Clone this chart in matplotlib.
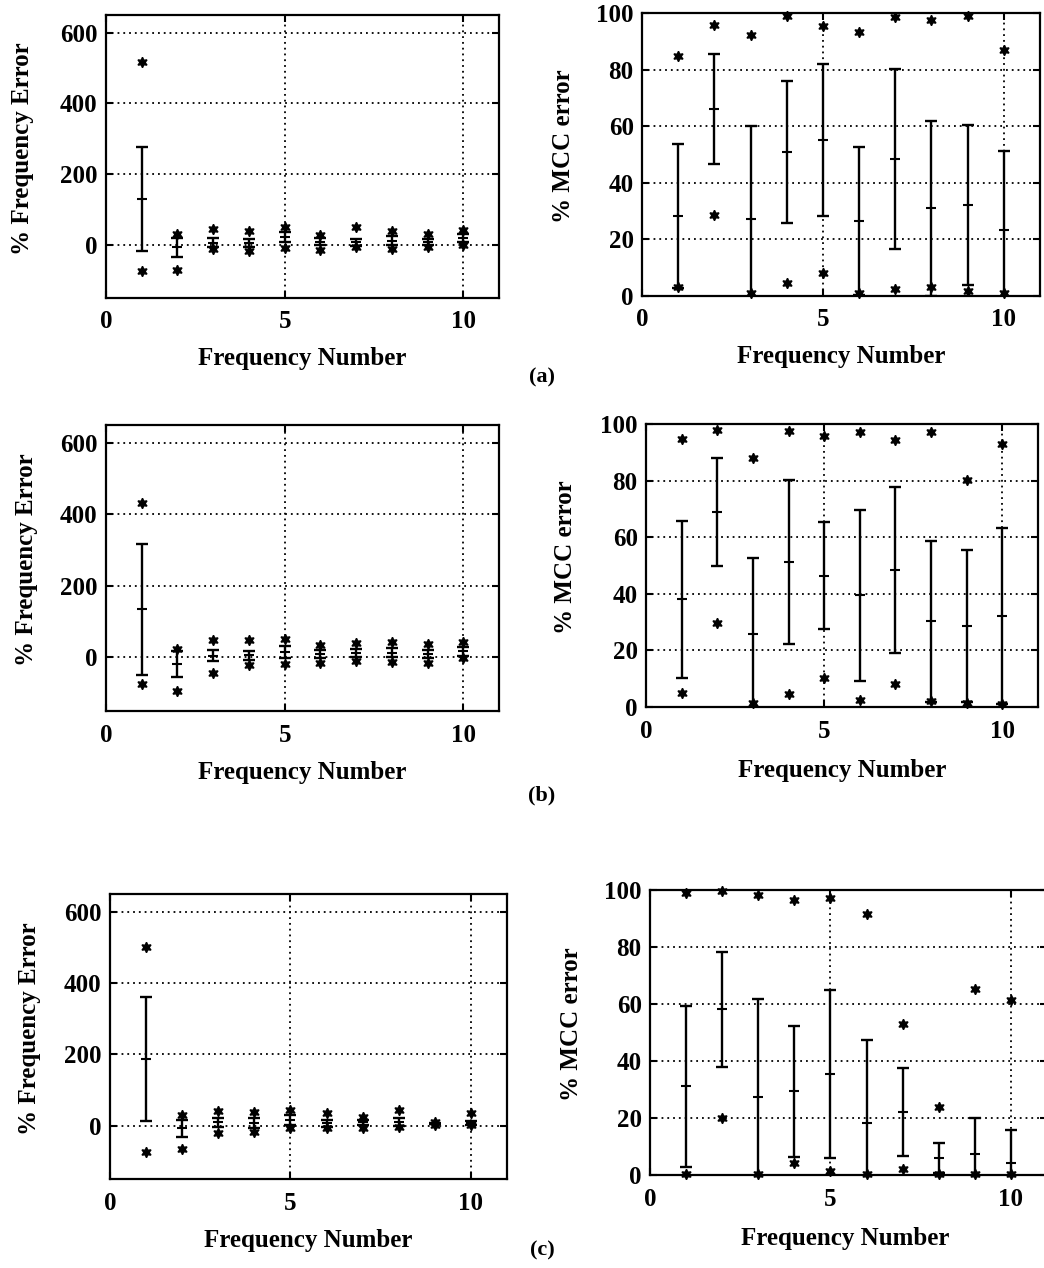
import matplotlib
matplotlib.use("Agg")
import matplotlib.pyplot as plt
import numpy as np

plt.rcParams['font.family'] = ['Liberation Serif', 'DejaVu Serif']
plt.rcParams['font.weight'] = 'bold'

freq_num = [1, 2, 3, 4, 5, 6, 7, 8, 9, 10]
x_ticks = [0, 5, 10]
freq_yticks = [0, 200, 400, 600]
mcc_yticks = [0, 20, 40, 60, 80, 100]

# ---- case (a) ----
a_freq_max = [517, 30, 45, 40, 50, 28, 50, 40, 31, 43]
a_freq_min = [-75, -70, -11, -16, -9, -13, -7, -11, -7, 0]
a_freq_mean = [130, -7, 6, 5, 22, 9, 8, 12, 8, 19]
a_freq_std = [147, 26, 13, 12, 14, 10, 10, 12, 9, 12]
a_mcc_max = [84.7, 95.9, 92.3, 98.8, 95.3, 93.2, 98.6, 97.6, 99.0, 86.8]
a_mcc_min = [3.3, 28.5, 1.2, 4.5, 8.3, 1.2, 2.4, 3.3, 1.9, 1.2]
a_mcc_mean = [28.4, 66.1, 27.1, 50.8, 55.2, 26.5, 48.4, 31.0, 32.2, 23.3]
a_mcc_std = [25.4, 19.5, 32.8, 25.0, 26.9, 26.0, 31.9, 31.0, 28.3, 28.0]

# ---- case (b) ----
b_freq_max = [431, 24, 49, 49, 52, 35, 40, 42, 38, 42]
b_freq_min = [-75, -94, -44, -21, -19, -17, -11, -14, -17, -2]
b_freq_mean = [134.5, -17.5, 5, 6, 15.5, 9.5, 11.5, 12.5, 9.5, 16.5]
b_freq_std = [183.5, 36.5, 16, 13, 17.5, 11.5, 11.5, 12.5, 11.5, 11.5]
b_mcc_max = [94.7, 98.0, 87.9, 97.6, 95.9, 97.0, 94.3, 97.0, 80.2, 92.9]
b_mcc_min = [5.1, 29.8, 1.5, 4.7, 10.4, 2.6, 8.0, 2.1, 1.5, 0.9]
b_mcc_mean = [38.1, 68.9, 25.7, 51.2, 46.3, 39.4, 48.5, 30.3, 28.7, 32.0]
b_mcc_std = [27.7, 19.1, 27.1, 29.0, 18.9, 30.3, 29.4, 28.4, 26.8, 31.1]

# ---- case (c) ----
c_freq_max = [501, 29, 41, 38, 43, 34, 24, 43, 10, 36]
c_freq_min = [-74, -67, -20, -18, -8, -8, -8, -4, 1, 1]
c_freq_mean = [186.5, -7.5, 9, 8, 15, 6.5, 9, 10, 5, 7]
c_freq_std = [173.5, 24.5, 13, 14, 14, 10.5, 8, 12, 2, 6]
c_mcc_max = [99.0, 99.6, 98.2, 96.5, 97.3, 91.7, 53.1, 24.0, 65.1, 61.4]
c_mcc_min = [0.2, 19.9, 0.2, 4.1, 1.4, 0.2, 2.0, 0.2, 0.2, 0.2]
c_mcc_mean = [31.1, 58.1, 27.5, 29.3, 35.5, 18.1, 22.2, 5.9, 7.5, 4.3]
c_mcc_std = [28.3, 20.1, 34.1, 23.0, 29.4, 29.2, 15.5, 5.3, 12.4, 11.5]

panel_tags = ['(a)', '(b)', '(c)']

W, H = 1044, 1268
fig = plt.figure(figsize=(W / 100, H / 100), dpi=100)


def add_ax(l, t, r, b):
    return fig.add_axes([l / W, 1 - b / H, (r - l) / W, (b - t) / H])


def fx(px):
    return px / W


def fy(py):
    return 1 - py / H


def draw(ax, vmax, vmin, vmean, vstd, ylim, yticks):
    ax.errorbar(freq_num, vmean, yerr=vstd, fmt='none', ecolor='black',
                elinewidth=1.7, capsize=4, capthick=1.7, zorder=3)
    ax.plot(freq_num, vmean, linestyle='none', marker='_', markersize=6.5,
            markeredgewidth=1.5, color='black', zorder=4)
    ax.plot(freq_num, vmax, linestyle='none', marker=(6, 1, 0), markersize=7.5,
            color='black', clip_on=False, zorder=5)
    ax.plot(freq_num, vmin, linestyle='none', marker=(6, 1, 0), markersize=7.5,
            color='black', clip_on=False, zorder=5)
    ax.set_xlim(0, 11)
    ax.set_ylim(*ylim)
    ax.set_xticks(x_ticks)
    ax.set_yticks(yticks)
    ax.grid(True, linestyle=(0, (1, 2.2)), linewidth=1.3, color='black')
    ax.set_axisbelow(True)
    ax.tick_params(direction='in', length=5, width=1.5, top=True, right=True,
                   labelsize=18)
    ax.tick_params(axis='x', pad=9)
    ax.tick_params(axis='y', pad=6)
    for lab in ax.get_xticklabels() + ax.get_yticklabels():
        lab.set_fontweight('bold')
    for s in ax.spines.values():
        s.set_linewidth(1.6)


boxes = [
    ((106, 15, 499, 298), (642, 13, 1040, 296)),
    ((106, 425, 499, 711), (646, 424, 1038, 707)),
    ((110, 894, 507, 1179), (650, 890, 1047, 1175)),
]
xlab_y = [(359, 357), (773, 771), (1241, 1238)]
ylab_x = [(23, 563), (27, 566), (30, 571)]
tag_pos = [(542, 377), (542, 795), (542, 1250)]

data = [
    (a_freq_max, a_freq_min, a_freq_mean, a_freq_std, a_mcc_max, a_mcc_min, a_mcc_mean, a_mcc_std),
    (b_freq_max, b_freq_min, b_freq_mean, b_freq_std, b_mcc_max, b_mcc_min, b_mcc_mean, b_mcc_std),
    (c_freq_max, c_freq_min, c_freq_mean, c_freq_std, c_mcc_max, c_mcc_min, c_mcc_mean, c_mcc_std),
]

for i in range(3):
    (bl, br) = boxes[i]
    fmx, fmn, fme, fsd, mmx, mmn, mme, msd = data[i]
    axl = add_ax(*bl)
    draw(axl, fmx, fmn, fme, fsd, (-150, 650), freq_yticks)
    axr = add_ax(*br)
    draw(axr, mmx, mmn, mme, msd, (0, 100), mcc_yticks)

    fig.text(fx((bl[0] + bl[2]) / 2), fy(xlab_y[i][0]), 'Frequency Number',
             ha='center', va='center', fontsize=18, fontweight='bold')
    fig.text(fx((br[0] + min(br[2], 1040)) / 2), fy(xlab_y[i][1]), 'Frequency Number',
             ha='center', va='center', fontsize=18, fontweight='bold')
    fig.text(fx(ylab_x[i][0]), fy((bl[1] + bl[3]) / 2 - 8), '% Frequency Error',
             ha='center', va='center', rotation=90, fontsize=18, fontweight='bold')
    fig.text(fx(ylab_x[i][1]), fy((br[1] + br[3]) / 2 - 8), '% MCC error',
             ha='center', va='center', rotation=90, fontsize=18, fontweight='bold')
    fig.text(fx(tag_pos[i][0]), fy(tag_pos[i][1]), panel_tags[i],
             ha='center', va='center', fontsize=16, fontweight='bold')

fig.savefig('out.png', dpi=100)
